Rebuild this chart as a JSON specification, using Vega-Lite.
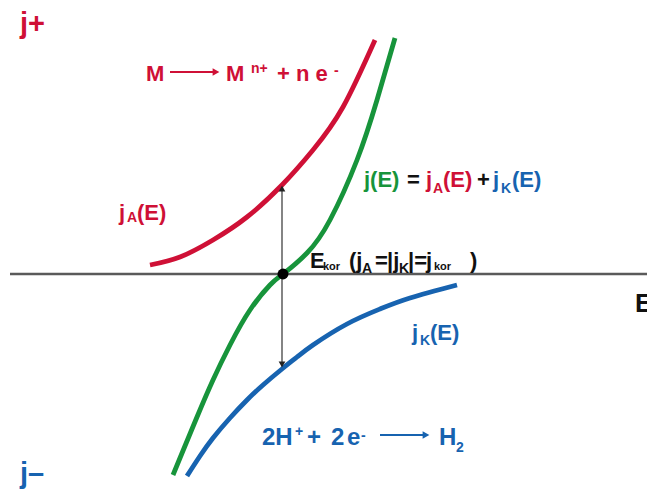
{
  "$schema": "https://vega.github.io/schema/vega-lite/v6.json",
  "width": 647,
  "height": 490,
  "autosize": {"type": "none"},
  "padding": 0,
  "background": "white",
  "config": {"view": {"stroke": null}},
  "datasets": {
    "curves": [
      {"curve": "anodic", "E": -1.33, "j": 0.09},
      {"curve": "anodic", "E": -1.03, "j": 0.17},
      {"curve": "anodic", "E": -0.70, "j": 0.34},
      {"curve": "anodic", "E": -0.36, "j": 0.57},
      {"curve": "anodic", "E": -0.01, "j": 0.89},
      {"curve": "anodic", "E": 0.30, "j": 1.24},
      {"curve": "anodic", "E": 0.60, "j": 1.67},
      {"curve": "anodic", "E": 0.92, "j": 2.34},
      {"curve": "sum", "E": -1.10, "j": -2.01},
      {"curve": "sum", "E": -1.03, "j": -1.84},
      {"curve": "sum", "E": -0.86, "j": -1.43},
      {"curve": "sum", "E": -0.70, "j": -1.06},
      {"curve": "sum", "E": -0.53, "j": -0.71},
      {"curve": "sum", "E": -0.33, "j": -0.36},
      {"curve": "sum", "E": -0.13, "j": -0.11},
      {"curve": "sum", "E": 0.0, "j": 0.0},
      {"curve": "sum", "E": 0.24, "j": 0.21},
      {"curve": "sum", "E": 0.47, "j": 0.54},
      {"curve": "sum", "E": 0.74, "j": 1.14},
      {"curve": "sum", "E": 0.94, "j": 1.74},
      {"curve": "sum", "E": 1.12, "j": 2.36},
      {"curve": "cathodic", "E": -0.96, "j": -2.02},
      {"curve": "cathodic", "E": -0.83, "j": -1.82},
      {"curve": "cathodic", "E": -0.70, "j": -1.64},
      {"curve": "cathodic", "E": -0.53, "j": -1.44},
      {"curve": "cathodic", "E": -0.36, "j": -1.26},
      {"curve": "cathodic", "E": -0.20, "j": -1.11},
      {"curve": "cathodic", "E": -0.01, "j": -0.95},
      {"curve": "cathodic", "E": 0.14, "j": -0.83},
      {"curve": "cathodic", "E": 0.30, "j": -0.71},
      {"curve": "cathodic", "E": 0.64, "j": -0.50},
      {"curve": "cathodic", "E": 0.97, "j": -0.35},
      {"curve": "cathodic", "E": 1.27, "j": -0.24},
      {"curve": "cathodic", "E": 1.74, "j": -0.11}
    ],
    "labels": [
      {"t": "j+", "E": -2.63, "j": 2.41, "c": "anodic", "k": "big"},
      {"t": "j–", "E": -2.63, "j": -2.09, "c": "cathodic", "k": "big"},
      {"t": "E", "E": 3.52, "j": -0.38, "c": "neutral", "k": "axis"},
      {"t": "M", "E": -1.37, "j": 1.93, "c": "anodic", "k": "main"},
      {"t": "M", "E": -0.57, "j": 1.93, "c": "anodic", "k": "main"},
      {"t": "+ n e", "E": -0.06, "j": 1.93, "c": "anodic", "k": "main"},
      {"t": "j", "E": -1.64, "j": 0.54, "c": "anodic", "k": "main"},
      {"t": "(E)", "E": -1.46, "j": 0.54, "c": "anodic", "k": "main"},
      {"t": "j(E)", "E": 0.81, "j": 0.87, "c": "sum", "k": "main"},
      {"t": "=", "E": 1.24, "j": 0.87, "c": "neutral", "k": "main"},
      {"t": "j", "E": 1.43, "j": 0.87, "c": "anodic", "k": "main"},
      {"t": "(E)", "E": 1.60, "j": 0.87, "c": "anodic", "k": "main"},
      {"t": "+", "E": 1.94, "j": 0.87, "c": "neutral", "k": "main"},
      {"t": "j", "E": 2.10, "j": 0.87, "c": "cathodic", "k": "main"},
      {"t": "(E)", "E": 2.29, "j": 0.87, "c": "cathodic", "k": "main"},
      {"t": "E", "E": 0.27, "j": 0.06, "c": "neutral", "k": "main"},
      {"t": "(j", "E": 0.66, "j": 0.06, "c": "neutral", "k": "main"},
      {"t": "=", "E": 0.92, "j": 0.06, "c": "neutral", "k": "main"},
      {"t": "|j", "E": 1.04, "j": 0.06, "c": "neutral", "k": "main"},
      {"t": "|=", "E": 1.25, "j": 0.06, "c": "neutral", "k": "main"},
      {"t": "j", "E": 1.43, "j": 0.06, "c": "neutral", "k": "main"},
      {"t": ")", "E": 1.87, "j": 0.06, "c": "neutral", "k": "main"},
      {"t": "j", "E": 1.29, "j": -0.66, "c": "cathodic", "k": "main"},
      {"t": "(E)", "E": 1.47, "j": -0.66, "c": "cathodic", "k": "main"},
      {"t": "2H", "E": -0.21, "j": -1.71, "c": "cathodic", "k": "rxn"},
      {"t": "+", "E": 0.24, "j": -1.71, "c": "cathodic", "k": "rxn"},
      {"t": "2", "E": 0.48, "j": -1.71, "c": "cathodic", "k": "rxn"},
      {"t": "e", "E": 0.64, "j": -1.71, "c": "cathodic", "k": "rxn"},
      {"t": "H", "E": 1.56, "j": -1.71, "c": "cathodic", "k": "rxn"},
      {"t": "n+", "E": -0.32, "j": 2.01, "c": "anodic", "k": "sub"},
      {"t": "-", "E": 0.51, "j": 1.99, "c": "anodic", "k": "sub"},
      {"t": "A", "E": -1.56, "j": 0.52, "c": "anodic", "k": "sub"},
      {"t": "A", "E": 1.50, "j": 0.81, "c": "anodic", "k": "sub"},
      {"t": "K", "E": 2.18, "j": 0.81, "c": "cathodic", "k": "sub"},
      {"t": "K", "E": 1.37, "j": -0.71, "c": "cathodic", "k": "sub"},
      {"t": "A", "E": 0.79, "j": 0.01, "c": "neutral", "k": "sub"},
      {"t": "K", "E": 1.16, "j": 0.01, "c": "neutral", "k": "sub"},
      {"t": "+", "E": 0.12, "j": -1.62, "c": "cathodic", "k": "sub"},
      {"t": "-", "E": 0.78, "j": -1.66, "c": "cathodic", "k": "sub"},
      {"t": "2", "E": 1.73, "j": -1.78, "c": "cathodic", "k": "sub"},
      {"t": "kor", "E": 0.40, "j": 0.04, "c": "neutral", "k": "tiny"},
      {"t": "kor", "E": 1.51, "j": 0.04, "c": "neutral", "k": "tiny"}
    ]
  },
  "encoding": {
    "x": {"field": "E", "type": "quantitative", "scale": {"domain": [-2.83, 3.64], "nice": false, "zero": false}, "axis": null},
    "y": {"field": "j", "type": "quantitative", "scale": {"domain": [-2.16, 2.74], "nice": false, "zero": false}, "axis": null}
  },
  "layer": [
    {
      "data": {"values": [{"E": -2.73, "E2": 3.64, "j": 0}]},
      "mark": {"type": "rule", "color": "#5a5a5a", "strokeWidth": 2.5},
      "encoding": {"x2": {"field": "E2"}}
    },
    {
      "data": {"name": "curves"},
      "mark": {"type": "line", "strokeWidth": 4.8, "interpolate": "natural", "strokeCap": "butt"},
      "encoding": {
        "color": {"field": "curve", "type": "nominal", "legend": null,
          "scale": {"domain": ["anodic", "sum", "cathodic", "neutral"], "range": ["#cf1036", "#17943b", "#1763b0", "#111111"]}},
        "detail": {"field": "curve"}
      }
    },
    {
      "data": {"values": [{"E": -0.01, "j": -0.88, "j2": 0.83}]},
      "mark": {"type": "rule", "color": "#333333", "strokeWidth": 1.2},
      "encoding": {"y2": {"field": "j2"}}
    },
    {
      "data": {"values": [{"E": -0.01, "j": 0.855, "dir": "up"}, {"E": -0.01, "j": -0.905, "dir": "down"}]},
      "mark": {"type": "point", "filled": true, "color": "#222222", "size": 45, "opacity": 1},
      "encoding": {
        "shape": {"field": "dir", "type": "nominal", "legend": null, "scale": {"domain": ["up", "down"], "range": ["triangle-up", "triangle-down"]}}
      }
    },
    {
      "data": {"values": [{"E": 0.0, "j": 0.0}]},
      "mark": {"type": "point", "filled": true, "color": "#000000", "size": 120, "opacity": 1, "shape": "circle"}
    },
    {
      "data": {"values": [{"E": -1.13, "E2": -0.70, "j": 2.02, "r": "anodic"}, {"E": 0.97, "E2": 1.40, "j": -1.61, "r": "cathodic"}]},
      "mark": {"type": "rule", "strokeWidth": 2},
      "encoding": {
        "x2": {"field": "E2"},
        "color": {"field": "r", "type": "nominal", "legend": null,
          "scale": {"domain": ["anodic", "sum", "cathodic", "neutral"], "range": ["#cf1036", "#17943b", "#1763b0", "#111111"]}}
      }
    },
    {
      "data": {"values": [{"E": -0.67, "j": 2.02, "r": "anodic"}, {"E": 1.43, "j": -1.61, "r": "cathodic"}]},
      "mark": {"type": "point", "filled": true, "size": 60, "opacity": 1, "shape": "triangle-right"},
      "encoding": {
        "color": {"field": "r", "type": "nominal", "legend": null,
          "scale": {"domain": ["anodic", "sum", "cathodic", "neutral"], "range": ["#cf1036", "#17943b", "#1763b0", "#111111"]}}
      }
    },
    {
      "data": {"name": "labels"},
      "mark": {"type": "text", "align": "left", "baseline": "alphabetic", "font": "Liberation Sans", "fontWeight": "bold"},
      "encoding": {
        "text": {"field": "t"},
        "color": {"field": "c", "type": "nominal", "legend": null,
          "scale": {"domain": ["anodic", "sum", "cathodic", "neutral"], "range": ["#cf1036", "#17943b", "#1763b0", "#111111"]}},
        "size": {"field": "k", "type": "nominal", "legend": null,
          "scale": {"type": "ordinal", "domain": ["big", "axis", "rxn", "main", "sub", "tiny"], "range": [29, 26, 24, 22, 14, 11]}}
      }
    }
  ]
}
